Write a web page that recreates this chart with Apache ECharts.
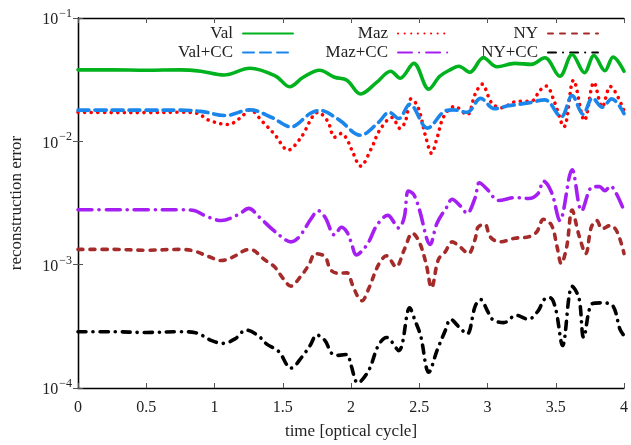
<!DOCTYPE html>
<html>
<head>
<meta charset="utf-8">
<script src="https://cdn.jsdelivr.net/npm/echarts@6/dist/echarts.min.js"></script>
<style>html,body{margin:0;padding:0;background:#fff;}#c{width:631px;height:445px;}</style>
</head>
<body>
<div id="c"></div>
<script>
// ---- data ----
const xTicks = [0, 0.5, 1, 1.5, 2, 2.5, 3, 3.5, 4];
const seriesNames = ['Val', 'Val+CC', 'Maz', 'Maz+CC', 'NY', 'NY+CC'];

const valT = [0, 0.25, 0.5, 0.75, 0.9, 1.07, 1.26, 1.45, 1.55, 1.65, 1.77, 1.88, 1.97, 2.07, 2.19, 2.29, 2.36, 2.46, 2.57, 2.65, 2.72, 2.79, 2.87, 2.97, 3.07, 3.2, 3.32, 3.42, 3.53, 3.62, 3.71, 3.78, 3.86, 3.92, 4.0];
const valV = [0.0380, 0.0380, 0.0377, 0.0380, 0.0370, 0.0345, 0.0391, 0.0337, 0.0277, 0.0331, 0.0377, 0.0331, 0.0313, 0.0242, 0.0302, 0.0370, 0.0325, 0.0429, 0.0265, 0.0337, 0.0377, 0.0406, 0.0363, 0.0476, 0.0402, 0.0429, 0.0421, 0.0476, 0.0337, 0.0506, 0.0360, 0.0497, 0.0373, 0.0483, 0.0370];

const valccT = [0, 0.25, 0.5, 0.75, 0.9, 1.08, 1.26, 1.42, 1.56, 1.7, 1.77, 1.91, 2.07, 2.2, 2.28, 2.35, 2.43, 2.56, 2.68, 2.75, 2.85, 2.95, 3.05, 3.15, 3.3, 3.42, 3.54, 3.62, 3.7, 3.77, 3.84, 3.91, 4.0];
const valccV = [0.0179, 0.0179, 0.0179, 0.0179, 0.0175, 0.0162, 0.0180, 0.0156, 0.0131, 0.0168, 0.0178, 0.0150, 0.0112, 0.0142, 0.0172, 0.0153, 0.0200, 0.0128, 0.0174, 0.0180, 0.0172, 0.0223, 0.0184, 0.0194, 0.0205, 0.0217, 0.0158, 0.0235, 0.0166, 0.0225, 0.0189, 0.0221, 0.0168];

const mazT = [0, 0.25, 0.5, 0.75, 0.87, 0.96, 1.1, 1.19, 1.26, 1.35, 1.44, 1.54, 1.63, 1.76, 1.83, 1.88, 1.93, 1.97, 2.01, 2.07, 2.15, 2.21, 2.3, 2.36, 2.4, 2.44, 2.49, 2.55, 2.59, 2.63, 2.68, 2.76, 2.85, 2.91, 2.96, 3.03, 3.1, 3.2, 3.33, 3.38, 3.43, 3.49, 3.56, 3.63, 3.71, 3.78, 3.84, 3.9, 4.0];
const mazV = [0.0172, 0.0171, 0.0171, 0.0172, 0.0169, 0.0148, 0.0137, 0.0155, 0.0180, 0.0145, 0.0114, 0.0085, 0.0106, 0.0172, 0.0145, 0.0108, 0.0116, 0.0104, 0.0083, 0.0063, 0.0088, 0.0123, 0.0156, 0.0127, 0.0147, 0.0221, 0.0191, 0.0106, 0.0080, 0.0106, 0.0159, 0.0192, 0.0164, 0.0242, 0.0291, 0.0205, 0.0187, 0.0209, 0.0214, 0.0256, 0.0281, 0.0209, 0.0131, 0.0313, 0.0148, 0.0300, 0.0190, 0.0278, 0.0177];

const mazccT = [0, 0.25, 0.5, 0.75, 0.85, 0.93, 1.05, 1.18, 1.25, 1.33, 1.42, 1.52, 1.56, 1.62, 1.71, 1.76, 1.81, 1.88, 1.93, 1.97, 2.0, 2.04, 2.08, 2.13, 2.19, 2.27, 2.32, 2.35, 2.39, 2.42, 2.46, 2.5, 2.58, 2.63, 2.7, 2.74, 2.8, 2.85, 2.91, 2.94, 3.0, 3.08, 3.2, 3.3, 3.37, 3.41, 3.47, 3.53, 3.62, 3.69, 3.77, 3.82, 3.86, 3.9, 3.94, 4.0];
const mazccV = [0.00279, 0.00279, 0.00279, 0.00279, 0.00275, 0.00250, 0.00228, 0.00257, 0.00286, 0.00242, 0.00195, 0.00159, 0.00153, 0.00168, 0.00238, 0.00274, 0.00242, 0.00174, 0.00201, 0.00184, 0.00153, 0.00120, 0.00129, 0.00153, 0.00209, 0.00251, 0.00217, 0.00198, 0.00242, 0.00396, 0.00370, 0.00281, 0.00146, 0.00217, 0.00291, 0.00339, 0.00300, 0.00261, 0.00350, 0.00461, 0.00406, 0.00331, 0.00350, 0.00344, 0.00377, 0.00476, 0.00384, 0.00228, 0.00589, 0.00274, 0.00429, 0.00429, 0.00398, 0.00434, 0.00384, 0.00275];

const nyT = [0, 0.25, 0.5, 0.75, 0.85, 0.96, 1.05, 1.14, 1.21, 1.26, 1.37, 1.44, 1.5, 1.56, 1.63, 1.69, 1.74, 1.81, 1.85, 1.91, 1.97, 2.01, 2.05, 2.08, 2.13, 2.2, 2.26, 2.33, 2.39, 2.45, 2.5, 2.55, 2.59, 2.64, 2.69, 2.74, 2.8, 2.86, 2.91, 2.93, 2.98, 3.02, 3.09, 3.2, 3.3, 3.36, 3.41, 3.47, 3.51, 3.54, 3.58, 3.62, 3.67, 3.72, 3.76, 3.8, 3.84, 3.9, 3.95, 4.0];
const nyV = [0.00133, 0.00133, 0.00131, 0.00133, 0.00129, 0.00116, 0.00108, 0.00116, 0.00129, 0.00133, 0.00109, 0.00096, 0.00078, 0.00067, 0.00080, 0.00099, 0.00123, 0.00116, 0.00091, 0.00085, 0.00086, 0.00069, 0.00055, 0.00051, 0.00064, 0.00099, 0.00118, 0.00096, 0.00132, 0.00180, 0.00153, 0.00102, 0.00065, 0.00110, 0.00127, 0.00153, 0.00139, 0.00123, 0.00162, 0.00201, 0.00213, 0.00168, 0.00153, 0.00164, 0.00168, 0.00184, 0.00233, 0.00208, 0.00139, 0.00102, 0.00139, 0.00277, 0.00173, 0.00123, 0.00201, 0.00228, 0.00195, 0.00208, 0.00184, 0.00123];

const nyccT = [0, 0.25, 0.5, 0.75, 0.86, 0.98, 1.06, 1.15, 1.23, 1.32, 1.38, 1.47, 1.56, 1.64, 1.7, 1.75, 1.81, 1.86, 1.91, 1.97, 2.0, 2.05, 2.13, 2.2, 2.26, 2.35, 2.43, 2.47, 2.51, 2.57, 2.63, 2.69, 2.73, 2.79, 2.85, 2.91, 2.95, 3.0, 3.04, 3.12, 3.21, 3.3, 3.37, 3.42, 3.46, 3.5, 3.55, 3.62, 3.67, 3.705, 3.77, 3.85, 3.92, 3.97, 4.0];
const nyccV = [0.000286, 0.000286, 0.000282, 0.000286, 0.000281, 0.000242, 0.000230, 0.000250, 0.000295, 0.000266, 0.000228, 0.000198, 0.000145, 0.000178, 0.000221, 0.000269, 0.000242, 0.000190, 0.000184, 0.000187, 0.000153, 0.000110, 0.000139, 0.000221, 0.000257, 0.000201, 0.000447, 0.000350, 0.000266, 0.000134, 0.000201, 0.000291, 0.000361, 0.000313, 0.000274, 0.000461, 0.000522, 0.000421, 0.000357, 0.000339, 0.000389, 0.000361, 0.000421, 0.000528, 0.000538, 0.000434, 0.000221, 0.000667, 0.000538, 0.000257, 0.000485, 0.000490, 0.000461, 0.000300, 0.000266];

// ---- styling ----
const FONT = 'Liberation Serif';
const colors = ['#00b21e', '#1a86ec', '#ff0000', '#a61ff2', '#a52a2a', '#000000'];
const dashes = ['solid', [11, 6], [0.1, 6.5], [14, 7, 0.1, 7], [5, 7], [8, 7, 0.1, 7]];
const tData = [valT, valccT, mazT, mazccT, nyT, nyccT];
const vData = [valV, valccV, mazV, mazccV, nyV, nyccV];

const series = seriesNames.map((name, k) => ({
  name: name,
  type: 'line',
  data: tData[k].map((t, i) => [t, vData[k][i]]),
  smooth: 0.35,
  showSymbol: false,
  symbol: 'none',
  lineStyle: { color: colors[k], width: 3.6, type: dashes[k], cap: 'round', join: 'round' },
  itemStyle: { color: colors[k] },
  z: 10 - k
}));

const legendCommon = {
  align: 'right', orient: 'horizontal', itemWidth: 50, itemHeight: 12,
  padding: 0, itemGap: 0, selectedMode: false,
  itemStyle: { opacity: 0, borderWidth: 0 },
  textStyle: { fontFamily: FONT, fontSize: 17, color: '#222', padding: [0, 5, 0, 0] }
};
const legendPos = [
  { name: 'Val', right: 337, top: 25 },
  { name: 'Val+CC', right: 337, top: 44 },
  { name: 'Maz', right: 182, top: 25 },
  { name: 'Maz+CC', right: 182, top: 44 },
  { name: 'NY', right: 32, top: 25 },
  { name: 'NY+CC', right: 32, top: 44 }
];

const chart = echarts.init(document.getElementById('c'), null, { renderer: 'canvas' });
chart.setOption({
  animation: false,
  backgroundColor: '#fff',
  grid: { left: 78, right: 7, top: 18, bottom: 53, containLabel: false },
  legend: legendPos.map(p => Object.assign({}, legendCommon, { data: [p.name], right: p.right, top: p.top })),
  xAxis: [
    {
      type: 'value', min: 0, max: 4, interval: 0.5,
      name: 'time [optical cycle]', nameLocation: 'middle', nameGap: 35,
      nameTextStyle: { fontFamily: FONT, fontSize: 17, color: '#222' },
      axisLine: { show: true, lineStyle: { color: '#000', width: 1.3 } },
      axisTick: { show: true, inside: true, length: 5, lineStyle: { color: '#555' } },
      axisLabel: { fontFamily: FONT, fontSize: 16, color: '#222', margin: 12, formatter: v => String(v) },
      splitLine: { show: false },
      data: xTicks
    },
    {
      type: 'value', min: 0, max: 4, interval: 0.5, position: 'top',
      axisLine: { show: true, lineStyle: { color: '#000', width: 1.3 } },
      axisTick: { show: true, inside: true, length: 5, lineStyle: { color: '#555' } },
      axisLabel: { show: false }, splitLine: { show: false }
    }
  ],
  yAxis: [
    {
      type: 'log', logBase: 10, min: 1e-4, max: 1e-1,
      name: 'reconstruction error', nameLocation: 'middle', nameGap: 53, nameRotate: 90,
      nameTextStyle: { fontFamily: FONT, fontSize: 17, color: '#222' },
      axisLine: { show: true, lineStyle: { color: '#000', width: 1.3 } },
      axisTick: { show: true, inside: true, length: 5, lineStyle: { color: '#555' } },
      minorTick: { show: false },
      splitLine: { show: false },
      axisLabel: {
        margin: 6,
        formatter: v => '{b|10}{s|−' + Math.round(-Math.log10(v)) + '}',
        rich: {
          b: { fontFamily: FONT, fontSize: 16, color: '#222', verticalAlign: 'bottom' },
          s: { fontFamily: FONT, fontSize: 12, color: '#222', verticalAlign: 'bottom', padding: [0, 0, 8, 1] }
        }
      }
    },
    {
      type: 'log', logBase: 10, min: 1e-4, max: 1e-1, position: 'right',
      axisLine: { show: true, lineStyle: { color: '#000', width: 1.3 } },
      axisTick: { show: true, inside: true, length: 5, lineStyle: { color: '#555' } },
      axisLabel: { show: false }, splitLine: { show: false }
    }
  ],
  series: series
});
</script>
</body>
</html>
